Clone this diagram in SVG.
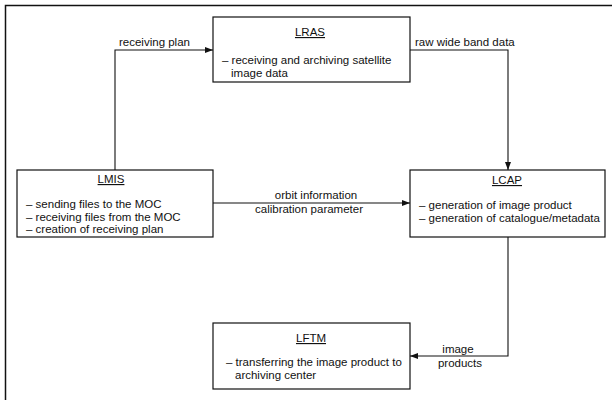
<svg xmlns="http://www.w3.org/2000/svg" width="612" height="400" viewBox="0 0 612 400">
  <defs>
    <marker id="arrow" viewBox="0 0 8 6" refX="8" refY="3" markerWidth="8" markerHeight="6" markerUnits="userSpaceOnUse" orient="auto">
      <path d="M0,0 L8,3 L0,6 z" fill="#111"/>
    </marker>
  </defs>
  <style>
    text { font-family: "Liberation Sans", Arial, Helvetica, sans-serif; font-size: 11.5px; fill: #111; }
    .title { text-anchor: middle; text-decoration: underline; }
    .mid { text-anchor: middle; }
    .box { fill: #fff; stroke: #111; stroke-width: 1.2; }
    .frame { fill: none; stroke: #111; stroke-width: 1.5; }
    .edge { fill: none; stroke: #111; stroke-width: 1.1; marker-end: url(#arrow); }
  </style>

  <rect width="612" height="400" fill="#fff"/>

  <!-- page frame (top and left rules) -->
  <path class="frame" d="M5.5,400 V5.5 H612"/>

  <!-- connectors -->
  <g id="connectors">
    <path class="edge" d="M115,170 V50 H213"/>
    <text x="119" y="46">receiving plan</text>

    <path class="edge" d="M410,50 H508 V170"/>
    <text x="415" y="46">raw wide band data</text>

    <path class="edge" d="M213,203 H410"/>
    <text class="mid" x="316" y="199">orbit information</text>
    <text class="mid" x="309" y="213">calibration parameter</text>

    <path class="edge" d="M508,237 V356 H410"/>
    <text class="mid" x="458" y="353">image</text>
    <text class="mid" x="460" y="367">products</text>
  </g>

  <!-- receiving / archiving station -->
  <g id="LRAS">
    <rect class="box" x="213" y="17" width="197" height="65"/>
    <text class="title" x="310" y="36">LRAS</text>
    <text x="222" y="64">– receiving and archiving satellite</text>
    <text x="231" y="77">image data</text>
  </g>

  <!-- mission information system -->
  <g id="LMIS">
    <rect class="box" x="17" y="170" width="196" height="67"/>
    <text class="title" x="111" y="183">LMIS</text>
    <text x="26" y="208">– sending files to the MOC</text>
    <text x="26" y="221">– receiving files from the MOC</text>
    <text x="26" y="233">– creation of receiving plan</text>
  </g>

  <!-- processing system -->
  <g id="LCAP">
    <rect class="box" x="410" y="170" width="195" height="67"/>
    <text class="title" x="507" y="184">LCAP</text>
    <text x="419" y="209">– generation of image product</text>
    <text x="419" y="222">– generation of catalogue/metadata</text>
  </g>

  <!-- file transfer -->
  <g id="LFTM">
    <rect class="box" x="213" y="323" width="197" height="66"/>
    <text class="title" x="311" y="342">LFTM</text>
    <text x="226" y="366">– transferring the image product to</text>
    <text x="235" y="379">archiving center</text>
  </g>
</svg>
